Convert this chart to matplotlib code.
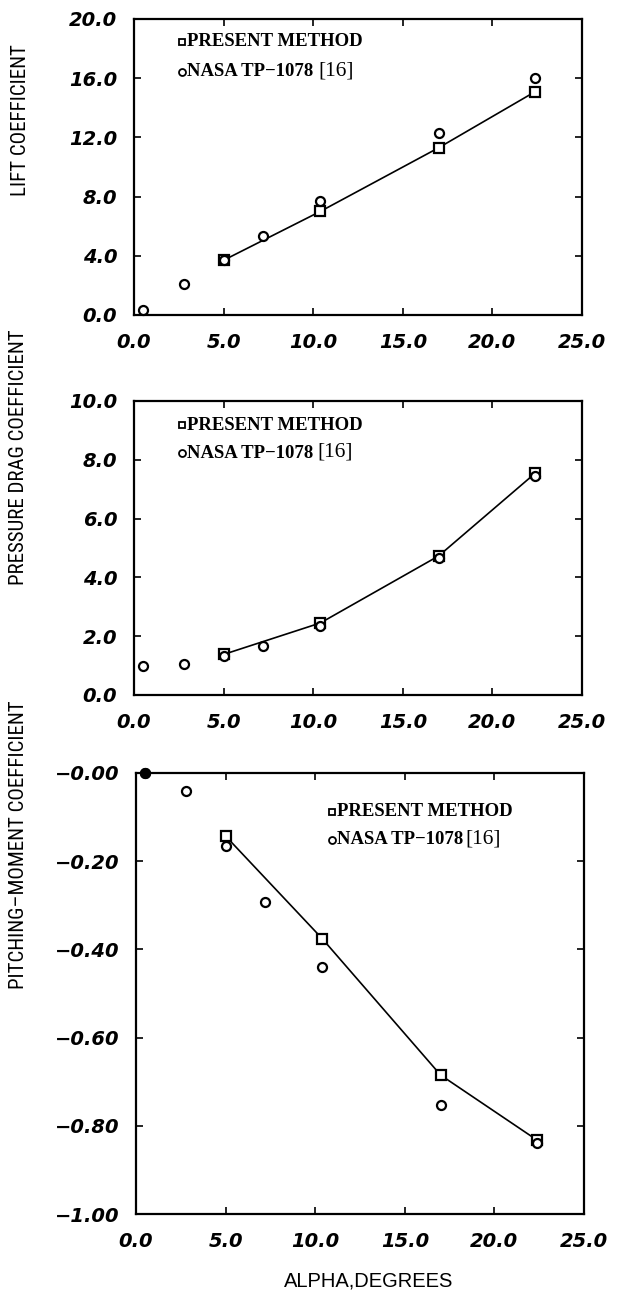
import matplotlib
matplotlib.use("Agg")
import matplotlib.pyplot as plt
from matplotlib.ticker import FixedLocator
from matplotlib import font_manager

# ---------------- data ----------------
alpha_present = [5.0, 10.4, 17.0, 22.4]
lift_present = [3.7, 7.0, 11.3, 15.1]
drag_present = [1.38, 2.45, 4.73, 7.55]
moment_present = [-0.143, -0.376, -0.685, -0.833]

alpha_nasa = [0.5, 2.8, 5.0, 7.2, 10.4, 17.0, 22.4]
lift_nasa = [0.35, 2.1, 3.7, 5.35, 7.7, 12.3, 16.0]
drag_nasa = [1.0, 1.05, 1.32, 1.65, 2.35, 4.65, 7.45]
moment_nasa = [0.0, -0.041, -0.166, -0.293, -0.44, -0.753, -0.84]

x_ticks = [0.0, 5.0, 10.0, 15.0, 20.0, 25.0]
lift_ticks = [0.0, 4.0, 8.0, 12.0, 16.0, 20.0]
drag_ticks = [0.0, 2.0, 4.0, 6.0, 8.0, 10.0]
moment_ticks = [0.0, -0.2, -0.4, -0.6, -0.8, -1.0]

legend_present = "PRESENT METHOD"
legend_nasa = "NASA TP\u22121078"
legend_ref = "[16]"
ylabels = ["LIFT COEFFICIENT", "PRESSURE DRAG COEFFICIENT", "PITCHING\u2013MOMENT COEFFICIENT"]
xlabel = "ALPHA,DEGREES"

# pick a condensed sans font if available
names = {f.name for f in font_manager.fontManager.ttflist}
cond_kw = dict(family="DejaVu Sans", stretch="condensed")
for cand in ["Liberation Sans Narrow", "DejaVu Sans Condensed", "Roboto Condensed",
             "Open Sans Condensed", "Noto Sans Condensed"]:
    if cand in names:
        cond_kw = dict(family=cand)
        break

W, H = 621, 1294
fig = plt.figure(figsize=(W / 100, H / 100), dpi=100)

def frac_box(l, r, t, b):
    return [l / W, 1 - b / H, (r - l) / W, (b - t) / H]

ax1 = fig.add_axes(frac_box(134, 582, 19, 315))
ax2 = fig.add_axes(frac_box(134, 582, 401, 695))
ax3 = fig.add_axes(frac_box(136, 584, 773, 1214))

tick_font = dict(family="DejaVu Sans", style="oblique", weight="bold", size=14)
leg_font = dict(family="Liberation Serif", weight="bold", size=13.5)

def style_axis(ax, yticks, ylim, yfmt):
    ax.set_xlim(0, 25)
    ax.set_ylim(*ylim)
    ax.xaxis.set_major_locator(FixedLocator(x_ticks))
    ax.yaxis.set_major_locator(FixedLocator(yticks))
    ax.set_xticklabels(["%.1f" % v for v in x_ticks], fontdict=tick_font)
    ax.set_yticklabels([yfmt(v) for v in yticks], fontdict=tick_font)
    ax.tick_params(direction="in", length=5, width=1.2, top=True, right=True,
                   color="black")
    ax.tick_params(axis="x", pad=13)
    ax.tick_params(axis="y", pad=12)
    for s in ax.spines.values():
        s.set_linewidth(1.6)

def draw(ax, yp, yn):
    ax.plot(alpha_present, yp, color="black", lw=1.2, zorder=2)
    ax.plot(alpha_present, yp, ls="none", marker="s", ms=6.5, mfc="white",
            mec="black", mew=1.6, zorder=3, clip_on=False)
    ax.plot(alpha_nasa, yn, ls="none", marker="o", ms=6.5, mfc="white",
            mec="black", mew=1.6, zorder=3, clip_on=False)

fig.canvas.draw()
renderer = fig.canvas.get_renderer()

def legend(x0, y0, dy, gap):
    fx = x0 / W
    fig.add_artist(plt.Line2D([fx], [1 - y0 / H], marker="s", ms=5, mfc="white",
                              mec="black", mew=1.3, ls="none"))
    fig.text(fx + 5 / W, 1 - y0 / H, legend_present, va="center", ha="left", **leg_font)
    fig.add_artist(plt.Line2D([fx], [1 - (y0 + dy) / H], marker="o", ms=5, mfc="white",
                              mec="black", mew=1.3, ls="none"))
    t = fig.text(fx + 5 / W, 1 - (y0 + dy) / H, legend_nasa, va="center", ha="left", **leg_font)
    bb = t.get_window_extent(renderer)
    fig.text((bb.x1 + gap) / W, 1 - (y0 + dy - 1) / H, legend_ref, va="center", ha="left",
             family="Liberation Serif", size=15.5)

style_axis(ax1, lift_ticks, (0, 20), lambda v: "%.1f" % v)
style_axis(ax2, drag_ticks, (0, 10), lambda v: "%.1f" % v)
style_axis(ax3, moment_ticks, (-1.0, 0.0), lambda v: "\u2212%.2f" % abs(v))

draw(ax1, lift_present, lift_nasa)
draw(ax2, drag_present, drag_nasa)
draw(ax3, moment_present, moment_nasa)
ax3.plot(alpha_nasa[:1], moment_nasa[:1], ls="none", marker="o", ms=7, color="black",
         zorder=4, clip_on=False)

legend(182, 42, 30, 5)
legend(182, 425, 28, 4)
legend(332, 812, 28, 2)

lab_font = dict(size=15, rotation=90, ha="center", va="center", **cond_kw)
fig.text(21 / W, 1 - 120 / H, ylabels[0], **lab_font)
fig.text(19 / W, 1 - 457 / H, ylabels[1], **lab_font)
fig.text(19 / W, 1 - 845 / H, ylabels[2], **lab_font)
fig.text(369 / W, 1 - 1281 / H, xlabel, ha="center", va="center",
         family="Liberation Sans", size=14.5)

fig.savefig("out.png", dpi=100)
